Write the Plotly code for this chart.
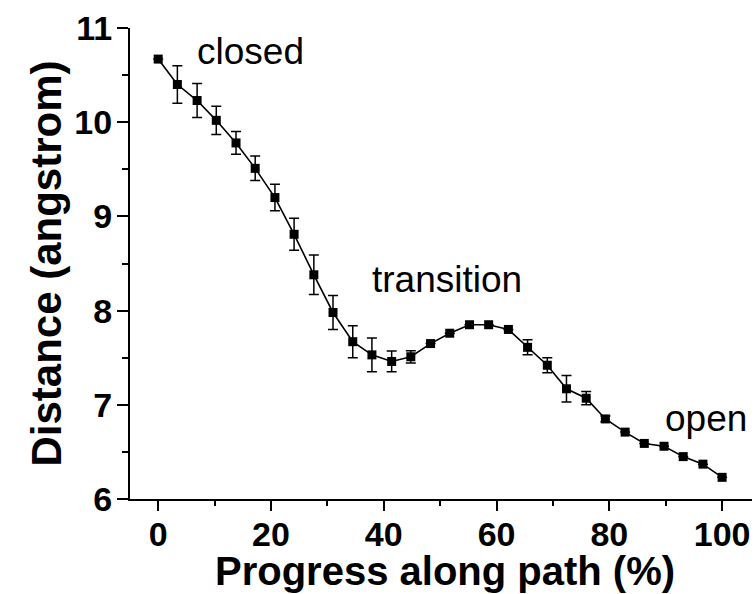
import plotly.graph_objects as go

progress = [0, 3.4, 6.9, 10.3, 13.8, 17.2, 20.7, 24.1, 27.6, 31.0, 34.5, 37.9, 41.4, 44.8,
            48.3, 51.7, 55.2, 58.6, 62.1, 65.5, 69.0, 72.4, 75.9, 79.3, 82.8, 86.2, 89.7,
            93.1, 96.6, 100]
distance = [10.67, 10.40, 10.23, 10.02, 9.78, 9.51, 9.20, 8.81, 8.38, 7.98, 7.67, 7.53, 7.46,
            7.51, 7.65, 7.76, 7.85, 7.85, 7.80, 7.61, 7.42, 7.17, 7.07, 6.85, 6.71, 6.59,
            6.56, 6.45, 6.37, 6.23]
error = [0, 0.20, 0.18, 0.15, 0.12, 0.13, 0.14, 0.17, 0.21, 0.18, 0.17, 0.18, 0.11, 0.065,
         0, 0, 0, 0, 0, 0.08, 0.08, 0.14, 0.07, 0.03, 0, 0, 0, 0, 0, 0]

labels = ["closed", "transition", "open"]
label_x = [6.6, 37.6, 89.6]
label_y = [10.75, 8.33, 6.85]

x_title = "Progress along path (%)"
y_title = "Distance (angstrom)"

FONT = "Liberation Sans, Arial, sans-serif"

fig = go.Figure()
fig.add_trace(go.Scatter(
    x=progress, y=distance,
    mode="lines+markers",
    line=dict(color="black", width=1.6),
    marker=dict(symbol="square", size=9, color="black"),
    error_y=dict(type="data", array=error, visible=True, color="black",
                 thickness=1.5, width=5),
    showlegend=False,
    cliponaxis=False,
))

for t, x, y in zip(labels, label_x, label_y):
    fig.add_annotation(x=x, y=y, text=t, showarrow=False, xanchor="left", yanchor="middle",
                       font=dict(family=FONT, size=37, color="black"))

# x-axis title placed as paper-anchored text below the tick labels
fig.add_annotation(x=0.506, y=-0.152, xref="paper", yref="paper", text=x_title,
                   showarrow=False, xanchor="center", yanchor="middle",
                   font=dict(family=FONT, size=40, weight="bold", color="black"))

fig.update_layout(
    width=756, height=594,
    margin=dict(l=130, r=4, t=28, b=95, autoexpand=False),
    paper_bgcolor="white", plot_bgcolor="white",
    font=dict(family=FONT, color="black"),
)
fig.update_xaxes(
    automargin=False,
    range=[-5, 105.3], showgrid=False, zeroline=False,
    showline=True, linecolor="black", linewidth=2,
    ticks="outside", ticklen=10, tickwidth=2, tickcolor="black",
    tick0=0, dtick=20,
    minor=dict(ticks="outside", ticklen=5, tickwidth=2, tickcolor="black", dtick=10, tick0=0),
    tickfont=dict(family=FONT, size=34, weight="bold"),
    ticklabelstandoff=-6,
)
fig.update_yaxes(
    automargin=False,
    range=[6, 11], showgrid=False, zeroline=False,
    showline=True, linecolor="black", linewidth=2,
    ticks="outside", ticklen=11, tickwidth=2, tickcolor="black",
    tick0=6, dtick=1,
    minor=dict(ticks="outside", ticklen=6, tickwidth=2, tickcolor="black", dtick=0.5, tick0=6),
    tickfont=dict(family=FONT, size=34, weight="bold"),
    ticklabelstandoff=-2,
    title=dict(text=y_title, font=dict(family=FONT, size=42, weight="bold"), standoff=0),
)

fig.write_html("out.html", config={"displayModeBar": False},
               post_script="document.body.style.margin='0';document.body.style.overflow='hidden';")
